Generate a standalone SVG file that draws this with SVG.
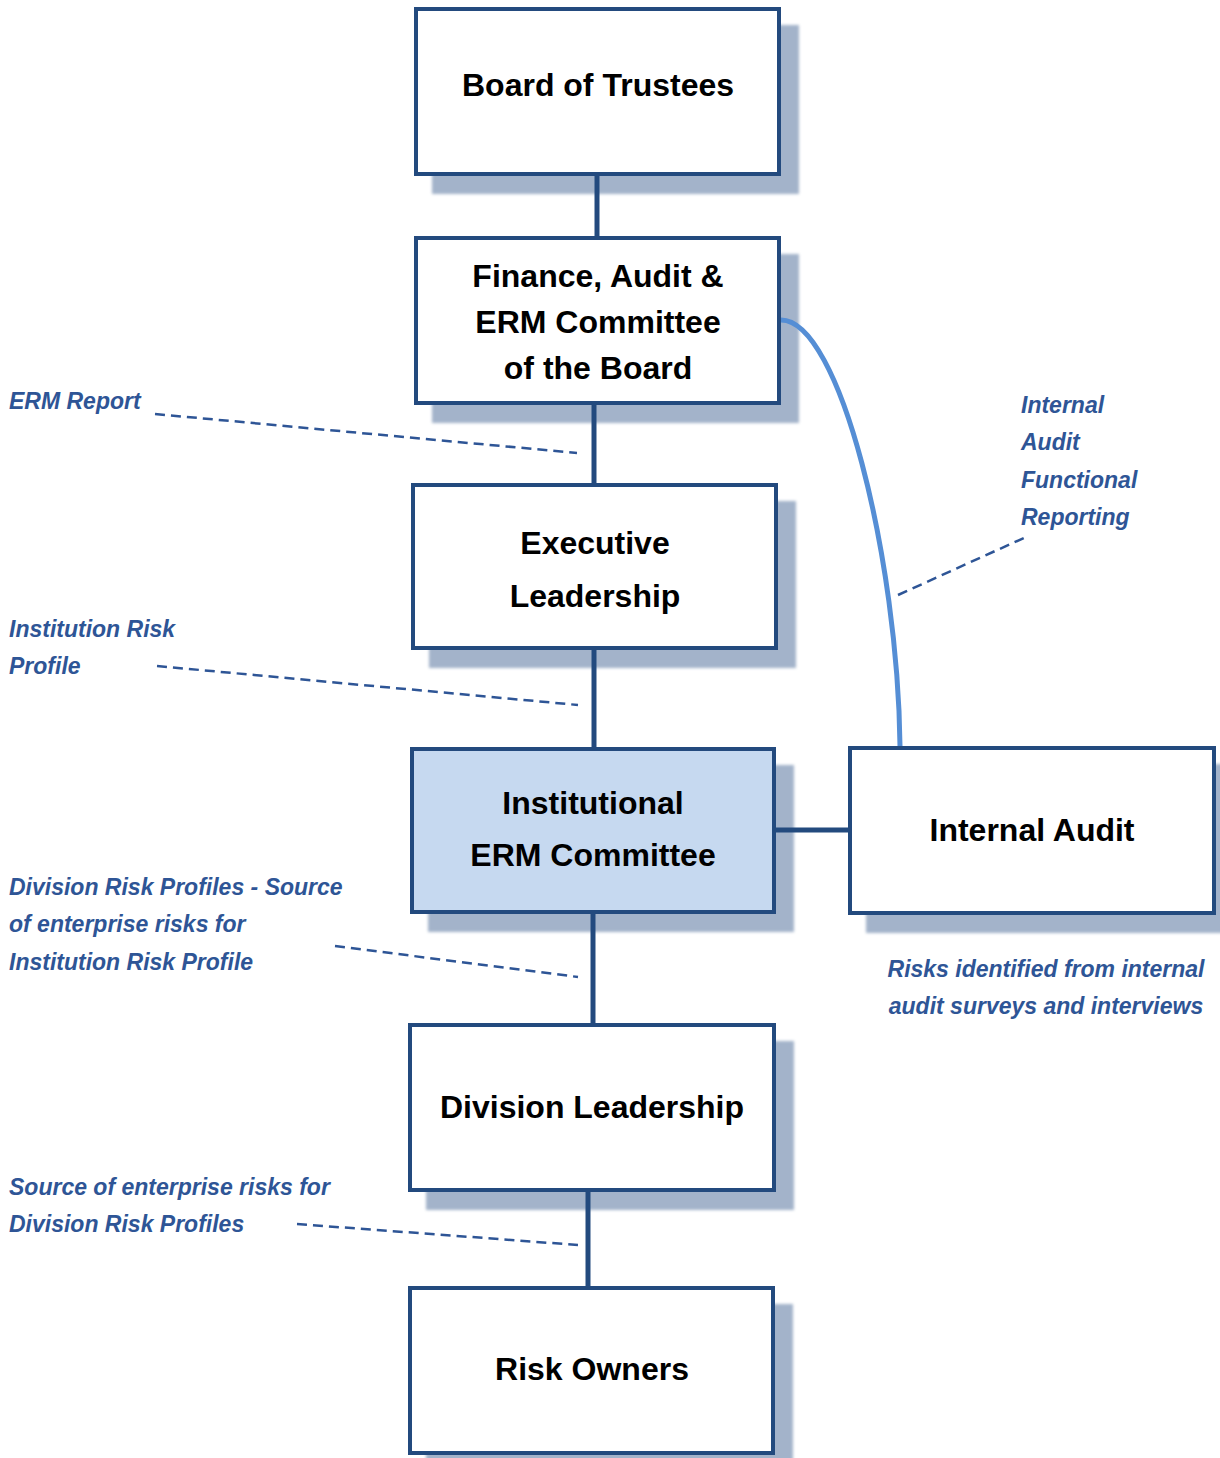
<svg xmlns="http://www.w3.org/2000/svg" width="1220" height="1458" viewBox="0 0 1220 1458">
<style>
.shadow{fill:#a3b3ca;filter:url(#blur)}
.box{fill:#ffffff;stroke:#234a7e;stroke-width:4}
.hl{fill:#c6d9f0}
.t{font-family:"Liberation Sans",Arial,sans-serif;font-weight:bold;font-size:32px;fill:#000;text-anchor:middle}
.lbl{font-family:"Liberation Sans",Arial,sans-serif;font-weight:bold;font-style:italic;font-size:23px;fill:#2e5596}
.con{stroke:#234a7e;stroke-width:5;fill:none}
.curve{stroke:#558ed5;stroke-width:5;fill:none}
.dash{stroke:#2e5596;stroke-width:2.5;stroke-dasharray:10 6;fill:none}
</style>
<defs>
<filter id="blur" x="-10%" y="-10%" width="120%" height="120%"><feGaussianBlur stdDeviation="1.5"/></filter>
</defs>
<rect width="1220" height="1458" fill="#fff"/>

<g id="board">
<rect class="shadow" x="432" y="25" width="367" height="169"/>
<rect class="box" x="416" y="9" width="363" height="165"/>
<text class="t" x="598" y="96">Board of Trustees</text>
</g>
<g id="finance">
<rect class="shadow" x="432" y="254" width="367" height="169"/>
<rect class="box" x="416" y="238" width="363" height="165"/>
<text class="t" x="598" y="287">Finance, Audit &amp;</text>
<text class="t" x="598" y="333">ERM Committee</text>
<text class="t" x="598" y="379">of the Board</text>
</g>
<g id="executive">
<rect class="shadow" x="429" y="501" width="367" height="167"/>
<rect class="box" x="413" y="485" width="363" height="163"/>
<text class="t" x="595" y="554">Executive</text>
<text class="t" x="595" y="607">Leadership</text>
</g>
<g id="erm">
<rect class="shadow" x="428" y="765" width="366" height="167"/>
<rect class="box hl" x="412" y="749" width="362" height="163"/>
<text class="t" x="593" y="814">Institutional</text>
<text class="t" x="593" y="866">ERM Committee</text>
</g>
<g id="internal-audit">
<rect class="shadow" x="866" y="764" width="368" height="169"/>
<rect class="box" x="850" y="748" width="364" height="165"/>
<text class="t" x="1032" y="841">Internal Audit</text>
</g>
<g id="division">
<rect class="shadow" x="426" y="1041" width="368" height="169"/>
<rect class="box" x="410" y="1025" width="364" height="165"/>
<text class="t" x="592" y="1118">Division Leadership</text>
</g>
<g id="risk-owners">
<rect class="shadow" x="426" y="1304" width="367" height="169"/>
<rect class="box" x="410" y="1288" width="363" height="165"/>
<text class="t" x="592" y="1380">Risk Owners</text>
</g>

<g id="connectors">
<line class="con" x1="597" y1="176" x2="597" y2="236"/>
<line class="con" x1="594" y1="405" x2="594" y2="483"/>
<line class="con" x1="594" y1="650" x2="594" y2="747"/>
<line class="con" x1="776" y1="830" x2="848" y2="830"/>
<line class="con" x1="593" y1="914" x2="593" y2="1023"/>
<line class="con" x1="588" y1="1192" x2="588" y2="1286"/>
<path class="curve" d="M781,320 C840,320 898,560 900,746"/>
<line class="dash" x1="155" y1="414" x2="577" y2="453"/>
<line class="dash" x1="157" y1="666" x2="578" y2="705"/>
<line class="dash" x1="335" y1="946" x2="578" y2="977"/>
<line class="dash" x1="297" y1="1224" x2="578" y2="1245"/>
<line class="dash" x1="898" y1="595" x2="1026" y2="537"/>
</g>

<g id="labels">
<text class="lbl" x="9" y="409">ERM Report</text>
<text class="lbl" x="9" y="637">Institution Risk</text>
<text class="lbl" x="9" y="674">Profile</text>
<text class="lbl" x="1021" y="413">Internal</text>
<text class="lbl" x="1021" y="450">Audit</text>
<text class="lbl" x="1021" y="488">Functional</text>
<text class="lbl" x="1021" y="525">Reporting</text>
<text class="lbl" x="9" y="895">Division Risk Profiles - Source</text>
<text class="lbl" x="9" y="932">of enterprise risks for</text>
<text class="lbl" x="9" y="970">Institution Risk Profile</text>
<text class="lbl" x="9" y="1195">Source of enterprise risks for</text>
<text class="lbl" x="9" y="1232">Division Risk Profiles</text>
<text class="lbl" x="1046" y="977" text-anchor="middle">Risks identified from internal</text>
<text class="lbl" x="1046" y="1014" text-anchor="middle">audit surveys and interviews</text>
</g>
</svg>
